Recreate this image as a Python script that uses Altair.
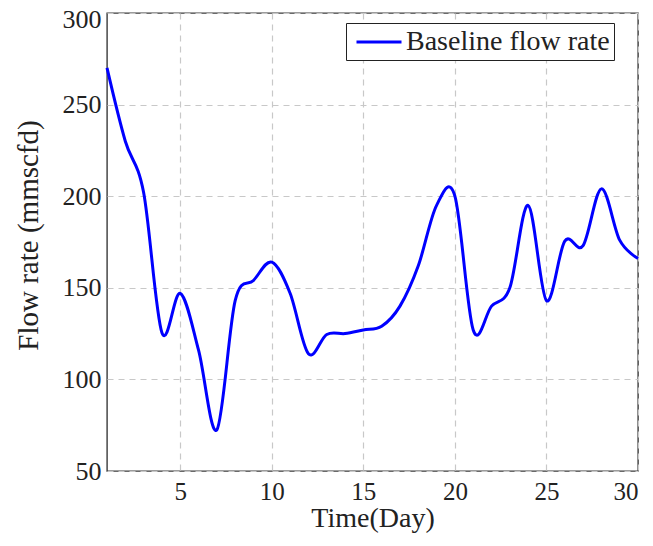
import altair as alt
import pandas as pd

days = list(range(1, 31))
flow = [270, 230, 202, 125.5, 147, 116, 72.5, 143, 154, 164,
        147, 114, 124.5, 125, 127, 129, 140, 162, 195, 200,
        127, 140, 150, 195, 143, 175.5, 173, 204, 176, 166]
series_name = "Baseline flow rate"

df = pd.DataFrame({"day": days, "flow": flow, "series": [series_name] * len(days)})

FONT = "Liberation Serif"
TXT = "#222222"

line = alt.Chart(df).mark_line(
    interpolate="cardinal", tension=0.0, strokeWidth=3
).encode(
    x=alt.X(
        "day:Q",
        scale=alt.Scale(domain=[1, 30], nice=False, zero=False),
        axis=alt.Axis(
            values=[5, 10, 15, 20, 25, 30],
            title="Time(Day)",
            labelPadding=8,
            labelFontSize=25,
            titleY=33,
            titleBaseline="top",
            titleFontSize=28,
        ),
    ),
    y=alt.Y(
        "flow:Q",
        scale=alt.Scale(domain=[50, 300], nice=False, zero=False),
        axis=alt.Axis(
            values=[50, 100, 150, 200, 250, 300],
            title="Flow rate (mmscfd)",
            labelPadding=6,
            labelOffset={"condition": {"test": "datum.value == 300", "value": 6}, "value": 0},
            titleX=-79,
            titleY=222,
            titleBaseline="middle",
            titleFontSize=29,
        ),
    ),
    color=alt.Color(
        "series:N",
        scale=alt.Scale(domain=[series_name], range=["#0000ff"]),
        legend=alt.Legend(
            title=None,
            orient="none",
            legendX=239,
            legendY=10,
            padding=4,
            symbolOffset=14,
            strokeColor="#222222",
            fillColor="white",
            symbolType="M-1.667,0H1.667",
            symbolSize=729,
            symbolStrokeWidth=3,
            symbolFillColor="transparent",
            labelFont=FONT,
            labelFontSize=28,
            labelColor=TXT,
            labelOffset=12,
            labelLimit=400,
        ),
    ),
)

chart = line.properties(
    width=531,
    height=458,
    background="white",
    autosize=alt.AutoSizeParams(type="none"),
    padding={"left": 99, "top": 5, "right": 7, "bottom": 67},
).configure_view(
    stroke="#3a3a3a", strokeWidth=1.4
).configure_axis(
    domain=False,
    ticks=False,
    grid=True,
    gridColor="#c8c8c8",
    gridDash=[6, 5],
    gridWidth=1.2,
    labelFont=FONT,
    labelFontSize=26,
    labelColor=TXT,
    titleFont=FONT,
    titleFontWeight="normal",
    titleColor=TXT,
)

chart.save("out.html", embed_options={"renderer": "svg", "actions": False})
